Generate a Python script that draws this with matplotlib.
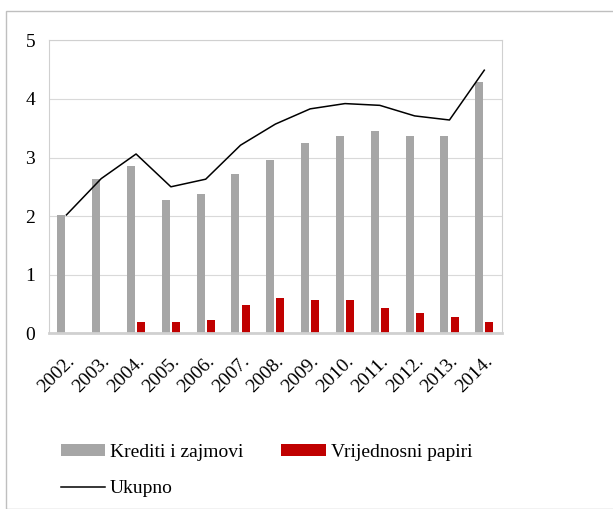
import matplotlib
matplotlib.use("Agg")
import matplotlib.pyplot as plt
import numpy as np
from matplotlib.patches import Rectangle
import matplotlib.transforms as mtransforms

years = ["2002.", "2003.", "2004.", "2005.", "2006.", "2007.", "2008.",
         "2009.", "2010.", "2011.", "2012.", "2013.", "2014."]
krediti = [2.02, 2.64, 2.86, 2.28, 2.38, 2.71, 2.96, 3.24, 3.36, 3.45, 3.36, 3.36, 4.28]
papiri = [0.0, 0.0, 0.19, 0.19, 0.23, 0.48, 0.60, 0.57, 0.56, 0.43, 0.35, 0.28, 0.19]
ukupno = [2.02, 2.64, 3.06, 2.50, 2.63, 3.21, 3.57, 3.83, 3.92, 3.89, 3.71, 3.64, 4.49]
yticks = [0, 1, 2, 3, 4, 5]

plt.rcParams['font.family'] = ['Liberation Serif', 'DejaVu Serif']

fig = plt.figure(figsize=(6.13, 5.09), dpi=100)
ax = fig.add_axes([49/613, 1 - 333.3/509, (501.7-49)/613, (333.3-40.3)/509])

x = np.arange(len(years))
w = 0.23
off = 0.145
ax.bar(x - off, krediti, width=w, color='#a6a6a6', label='Krediti i zajmovi', zorder=2)
ax.bar(x + off, papiri, width=w, color='#c00000', label='Vrijednosni papiri', zorder=2)
ax.plot(x, ukupno, color='black', lw=1.1, label='Ukupno', zorder=3)

ax.set_xlim(-0.5, len(years) - 0.5)
ax.set_ylim(0, 5)
ax.set_yticks(yticks)
ax.set_yticklabels([str(v) for v in yticks], fontsize=14)
ax.set_xticks(x)
ax.set_xticklabels(years, rotation=45, ha='right', rotation_mode='anchor', fontsize=14)
ax.tick_params(axis='both', length=0)
ax.tick_params(axis='y', pad=10)
ax.tick_params(axis='x', pad=14)
ax.grid(axis='y', color='#d9d9d9', lw=0.8, zorder=0)
for s in ['left', 'right', 'top']:
    ax.spines[s].set_color('#d0d0d0')
    ax.spines[s].set_linewidth(0.8)
ax.spines['bottom'].set_color('#d0d0d0')
ax.spines['bottom'].set_linewidth(2)

handles, labels = ax.get_legend_handles_labels()
hd = dict(zip(labels, handles))
order = ['Krediti i zajmovi', 'Ukupno', 'Vrijednosni papiri']
leg = fig.legend([hd[k] for k in order], order,
                 loc='upper left', bbox_to_anchor=(45/613, 1 - 428/509),
                 ncol=2, frameon=False, fontsize=14, handlelength=2.27,
                 handleheight=0.6, handletextpad=0.28, columnspacing=1.95,
                 labelspacing=1.0, borderpad=0.3)

fig.patches.append(Rectangle((6/613, 0), 1, 1 - 11/509, transform=fig.transFigure,
                             fill=False, edgecolor='#bfbfbf', lw=1))

fig.savefig('out.png', dpi=100)
